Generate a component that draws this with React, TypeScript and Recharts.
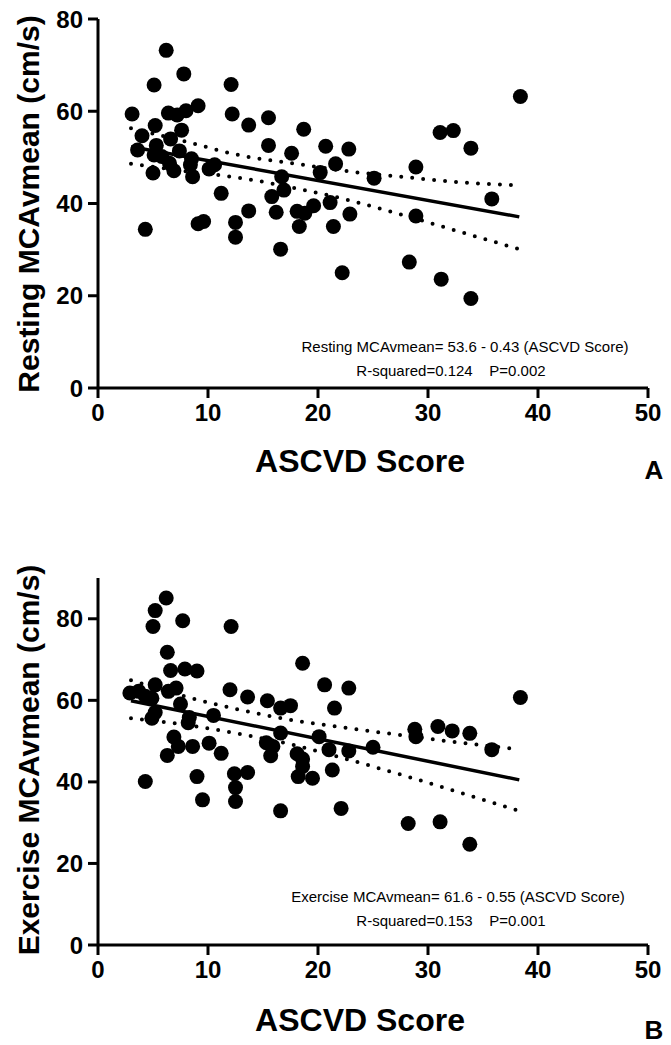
import { ScatterChart, Scatter, XAxis, YAxis } from "recharts";

// ASCVD score (x) vs resting MCAv mean (y), panel A
const restX = [
  6.2, 7.8, 5.1, 12.1, 3.1, 6.4, 7.2, 8.0, 9.1, 12.2, 13.7, 15.5, 18.7, 5.2, 7.6, 4.0, 6.6,
  5.3, 15.5, 20.7, 22.8, 3.6, 7.4, 17.6, 5.1, 5.8, 8.5, 21.6, 6.5, 8.4, 10.6, 10.1, 6.9,
  5.0, 20.2, 8.6, 16.7, 25.1, 16.9, 11.2, 15.8, 21.1, 13.7, 18.1, 18.8, 19.6, 22.9, 4.3,
  9.1, 9.6, 12.5, 12.5, 16.2, 18.3, 21.4, 16.6, 22.2, 38.4, 31.1, 32.3, 33.9, 28.9, 35.8,
  28.9, 28.3, 31.2, 33.9,
];
const restY = [
  73.2, 68.1, 65.7, 65.8, 59.4, 59.6, 59.2, 60.1, 61.2, 59.4, 57.0, 58.6, 56.1, 56.9, 55.9,
  54.7, 54.0, 52.6, 52.6, 52.4, 51.8, 51.6, 51.4, 50.9, 50.5, 50.2, 49.7, 48.6, 48.7, 48.4,
  48.4, 47.5, 47.1, 46.6, 46.7, 45.8, 45.8, 45.5, 42.9, 42.2, 41.5, 40.2, 38.4, 38.3, 37.9,
  39.5, 37.7, 34.4, 35.6, 36.1, 35.9, 32.7, 38.1, 35.0, 35.0, 30.1, 25.0, 63.2, 55.4, 55.8,
  52.0, 47.9, 41.0, 37.3, 27.3, 23.6, 19.4,
];

// ASCVD score (x) vs exercise MCAv mean (y), panel B
const exX = [
  6.2, 5.2, 5.0, 7.7, 12.1, 6.3, 6.6, 7.9, 9.0, 18.6, 20.6, 22.8, 5.2, 7.1, 6.4, 12.0, 2.9,
  3.7, 4.3, 4.9, 13.6, 15.4, 16.6, 17.5, 21.5, 7.5, 5.2, 4.9, 8.3, 10.5, 8.2, 16.6, 20.1,
  25.0, 22.8, 21.0, 6.9, 7.3, 6.3, 8.6, 10.1, 11.2, 15.3, 15.9, 15.7, 18.1, 18.6, 18.6,
  18.2, 19.5, 21.3, 4.3, 9.0, 9.5, 12.4, 13.6, 12.5, 12.5, 16.6, 22.1, 38.4, 28.8, 28.9,
  30.9, 32.2, 33.8, 35.8, 28.2, 31.1, 33.8,
];
const exY = [
  85.1, 82.0, 78.1, 79.5, 78.1, 71.8, 67.3, 67.7, 67.2, 69.1, 63.8, 63.0, 63.8, 63.0, 62.2,
  62.6, 61.8, 62.2, 61.0, 60.5, 60.8, 59.9, 58.1, 58.7, 58.1, 59.1, 57.0, 55.6, 55.8, 56.3,
  54.5, 52.0, 51.1, 48.5, 47.6, 47.9, 51.0, 48.7, 46.5, 48.7, 49.5, 47.0, 49.6, 48.7, 46.4,
  46.9, 45.6, 43.8, 41.3, 40.9, 42.9, 40.1, 41.3, 35.6, 42.0, 42.3, 38.6, 35.2, 32.9, 33.5,
  60.7, 52.9, 51.1, 53.6, 52.5, 51.9, 47.9, 29.8, 30.2, 24.7,
];

// fitted lines (end points) and 95% bands
const fitX = [3.0, 38.3];
const restFitY = [52.3, 37.1];
const exFitY = [59.9, 40.5];

const bandX = [3, 8, 13, 18, 23, 28, 33, 38.3];
const restUpper = [56.3, 53.4, 50.4, 48.6, 46.9, 45.7, 44.6, 43.9];
const restLower = [48.6, 47.0, 45.5, 43.3, 40.6, 37.3, 33.8, 30.1];
const exUpper = [64.9, 60.9, 57.6, 55.0, 53.1, 51.3, 49.6, 48.0];
const exLower = [55.6, 54.0, 51.7, 48.9, 45.3, 41.4, 37.3, 32.9];

const xTicks = [0, 10, 20, 30, 40, 50];
const restTicks = [0, 20, 40, 60, 80];
const exTicks = [0, 20, 40, 60, 80];

const zip = (xs: number[], ys: number[]) => xs.map((x, i) => ({ x, y: ys[i] }));

const FONT = "'Liberation Sans', Arial, sans-serif";
const tickStyle = { fill: "#000", fontSize: 24, fontWeight: "bold", fontFamily: FONT };
const axisStroke = { stroke: "#000", strokeWidth: 3 };

const dot = (p: any) => <circle cx={p.cx} cy={p.cy} r={7.5} fill="#000" />;
const noDot = () => <g />;

function Panel({
  top, height, marginTop, yMax, yTicks, points, fit, upper, lower,
}: {
  top: number; height: number; marginTop: number; yMax: number; yTicks: number[];
  points: { x: number; y: number }[]; fit: { x: number; y: number }[];
  upper: { x: number; y: number }[]; lower: { x: number; y: number }[];
}) {
  const dotted = { stroke: "#000", strokeWidth: 4, strokeDasharray: "0 11", strokeLinecap: "round" };
  return (
    <div style={{ position: "absolute", left: 0, top }}>
      <ScatterChart width={671} height={height} margin={{ top: marginTop, right: 23, left: 0, bottom: 0 }}>
        <XAxis
          type="number"
          dataKey="x"
          domain={[0, 50]}
          ticks={xTicks}
          height={100}
          tick={tickStyle}
          tickSize={10}
          tickMargin={6}
          axisLine={axisStroke}
          tickLine={axisStroke}
        />
        <YAxis
          type="number"
          dataKey="y"
          domain={[0, yMax]}
          ticks={yTicks}
          width={98}
          tick={tickStyle}
          tickSize={10}
          tickMargin={5}
          axisLine={axisStroke}
          tickLine={axisStroke}
        />
        <Scatter data={upper} line={dotted} lineJointType="monotoneX" shape={noDot} isAnimationActive={false} />
        <Scatter data={lower} line={dotted} lineJointType="monotoneX" shape={noDot} isAnimationActive={false} />
        <Scatter data={fit} line={{ stroke: "#000", strokeWidth: 3.5 }} shape={noDot} isAnimationActive={false} />
        <Scatter data={points} shape={dot} isAnimationActive={false} />
      </ScatterChart>
    </div>
  );
}

const abs = (s: React.CSSProperties): React.CSSProperties => ({
  position: "absolute",
  whiteSpace: "nowrap",
  color: "#000",
  fontFamily: FONT,
  lineHeight: 1,
  transform: "translate(-50%, -50%)",
  ...s,
});

export default function App() {
  return (
    <div style={{ position: "absolute", left: 0, top: 0, width: 671, height: 1045, background: "#fff", overflow: "hidden" }}>
      <Panel
        top={0}
        height={488}
        marginTop={19}
        yMax={80}
        yTicks={restTicks}
        points={zip(restX, restY)}
        fit={zip(fitX, restFitY)}
        upper={zip(bandX, restUpper)}
        lower={zip(bandX, restLower)}
      />
      <Panel
        top={500}
        height={545}
        marginTop={78}
        yMax={90}
        yTicks={exTicks}
        points={zip(exX, exY)}
        fit={zip(fitX, exFitY)}
        upper={zip(bandX, exUpper)}
        lower={zip(bandX, exLower)}
      />

      <div style={abs({ left: 29, top: 204, fontSize: 30, fontWeight: "bold", transform: "translate(-50%, -50%) rotate(-90deg)" })}>
        Resting MCAvmean (cm/s)
      </div>
      <div style={abs({ left: 29, top: 760, fontSize: 30, fontWeight: "bold", transform: "translate(-50%, -50%) rotate(-90deg)" })}>
        Exercise MCAvmean (cm/s)
      </div>

      <div style={abs({ left: 360, top: 461, fontSize: 32, fontWeight: "bold" })}>ASCVD Score</div>
      <div style={abs({ left: 360, top: 1020, fontSize: 32, fontWeight: "bold" })}>ASCVD Score</div>

      <div style={abs({ left: 654, top: 470, fontSize: 26, fontWeight: "bold" })}>A</div>
      <div style={abs({ left: 654, top: 1030, fontSize: 26, fontWeight: "bold" })}>B</div>

      <div style={abs({ left: 465, top: 346, fontSize: 15 })}>Resting MCAvmean= 53.6 - 0.43 (ASCVD Score)</div>
      <div style={abs({ left: 451, top: 370, fontSize: 15, whiteSpace: "pre" })}>{"R-squared=0.124    P=0.002"}</div>

      <div style={abs({ left: 458, top: 896, fontSize: 15 })}>Exercise MCAvmean= 61.6 - 0.55 (ASCVD Score)</div>
      <div style={abs({ left: 451, top: 920, fontSize: 15, whiteSpace: "pre" })}>{"R-squared=0.153    P=0.001"}</div>
    </div>
  );
}
